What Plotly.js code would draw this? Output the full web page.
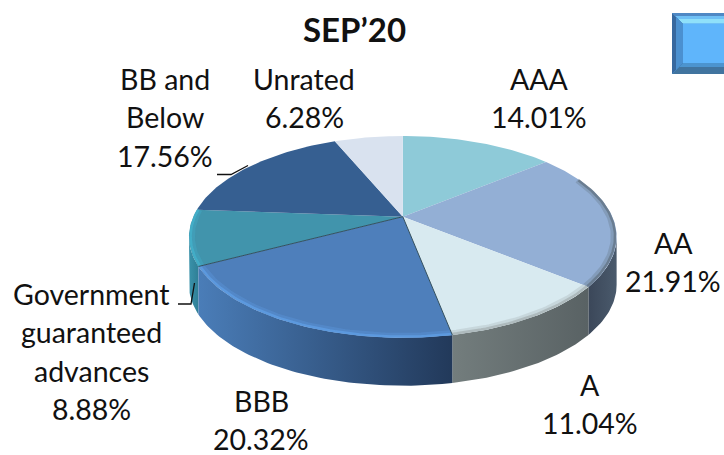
<!DOCTYPE html>
<html>
<head>
<meta charset="utf-8">
<script src="https://cdn.plot.ly/plotly-3.0.1.min.js"></script>
<style>html,body{margin:0;padding:0;background:#fff}#chart{width:724px;height:455px}</style>
</head>
<body>
<div id="chart"></div>
<script>
// ---- data (clockwise from 12 o'clock) ----
const categories = ['AAA', 'AA', 'A', 'BBB', 'Government guaranteed advances', 'BB and Below', 'Unrated'];
const values = [14.01, 21.91, 11.04, 20.32, 8.88, 17.56, 6.28];
const chartTitle = 'SEP’20';

// ---- label layout: wrapped category lines, anchor centre x, first line y ----
const labelLines = [['AAA'], ['AA'], ['A'], ['BBB'], ['Government', 'guaranteed', 'advances'], ['BB and', 'Below'], ['Unrated']];
const labelX = [539, 673, 590, 261, 91, 165, 304];
const labelY = [79, 243, 385, 401, 294, 79, 79];
const lineStep = 38.3;

// ---- styles ----
const topColors = ['#8ECAD8', '#93AFD5', '#D8EAF0', '#4E7FBB', '#4194AC', '#365F91', '#D9E2EF'];
const wallStops = [
  ['#6fa2ae', '#6fa2ae'], ['#3b4759', '#4a5a6c'], ['#737d7d', '#596264'],
  ['#4a7db8', '#22395a'], ['#3a92aa', '#2f7f96'], ['#2b4a72', '#2b4a72'], ['#aab3bf', '#aab3bf']
];
const rimColors = [null, '#66788a', '#a9b5b7', '#5e9ce2', '#43b0ca', null, null];

// ---- projection of the tilted disc ----
const cx = 402.8, cy = 216.7, sx = 209.5, sy = 96.8, k = 0.2, depth = 48;
function project(angle, r) {
  const u = Math.sin(angle) * r, v = -Math.cos(angle) * r, w = 1 - k * v;
  return [cx + sx * u / w, cy + sy * v / w];
}
const total = values.reduce((a, b) => a + b, 0);
const edges = [0];
values.forEach(v => edges.push(edges[edges.length - 1] + v / total * 2 * Math.PI));
function arc(a0, a1, r) {
  const n = Math.max(2, Math.ceil((a1 - a0) / 0.02));
  const pts = [];
  for (let i = 0; i <= n; i++) pts.push(project(a0 + (a1 - a0) * i / n, r));
  return pts;
}
const frontStart = Math.acos(-k), frontEnd = 2 * Math.PI - frontStart;
const traces = [];
function poly(pts, extra) {
  traces.push(Object.assign({
    type: 'scatter', mode: 'lines', x: pts.map(p => p[0]), y: pts.map(p => p[1]),
    hoverinfo: 'skip', showlegend: false
  }, extra));
}

// side walls first
[4, 1, 2, 3].forEach(i => {
  const a0 = Math.max(edges[i], frontStart), a1 = Math.min(edges[i + 1], frontEnd);
  if (a1 <= a0) return;
  const upper = arc(a0, a1, 1);
  const lower = upper.map(p => [p[0], p[1] + depth]).reverse();
  poly(upper.concat(lower, [upper[0]]), {
    fill: 'toself', line: {width: 0},
    fillgradient: {type: 'horizontal', colorscale: [[0, wallStops[i][0]], [1, wallStops[i][1]]]}
  });
});
// top faces
values.forEach((v, i) => {
  const rim = arc(edges[i], edges[i + 1], 1);
  poly([[cx, cy]].concat(rim, [[cx, cy]]), {fill: 'toself', fillcolor: topColors[i], line: {width: 0, color: topColors[i]}});
});
// bevel along the front rim: soft outer glow, then a narrow highlight
values.forEach((v, i) => {
  if (!rimColors[i]) return;
  const a0 = Math.max(edges[i], 1.15), a1 = Math.min(edges[i + 1], edges[5]);
  poly(arc(a0, a1, 0.985), {line: {color: rimColors[i], width: 5}, opacity: 0.35});
  poly(arc(a0, a1, 0.993), {line: {color: rimColors[i], width: 2.5}, opacity: 0.85});
});
// slice edges of the BBB face
[edges[3], edges[4]].forEach(a => {
  poly([[cx, cy], project(a, 1)], {line: {color: '#33505f', width: 1}});
});
// leader lines
const leaderBBx = [217, 231, 248], leaderBBy = [174.5, 174.5, 165.5];
const leaderGovx = [178, 191, 194.5], leaderGovy = [304, 304, 283];
traces.push({type: 'scatter', mode: 'lines', x: leaderBBx, y: leaderBBy, line: {color: '#111', width: 1.3}, hoverinfo: 'skip', showlegend: false});
traces.push({type: 'scatter', mode: 'lines', x: leaderGovx, y: leaderGovy, line: {color: '#111', width: 1.3}, hoverinfo: 'skip', showlegend: false});

// ---- labels ----
const font = 'Lato, Carlito, "Open Sans", sans-serif';
const annotations = [];
function addText(x, y, text, size, bold) {
  annotations.push({xref: 'x', yref: 'y', x, y, text: bold ? '<b>' + text + '</b>' : text, showarrow: false,
    xanchor: 'center', yanchor: 'middle', font: {family: font, size, color: '#111'}});
}
categories.forEach((c, i) => {
  const lines = labelLines[i].concat([values[i].toFixed(2) + '%']);
  lines.forEach((t, j) => addText(labelX[i], labelY[i] + j * lineStep, t, 28.5, false));
});
addText(354, 29, chartTitle, 33, true);

// ---- bevelled button in the corner ----
const bx0 = 672, bx1 = 730, by0 = 13, by1 = 74, b = 11;
function path(pts) { return 'M' + pts.map(p => p.join(',')).join('L') + 'Z'; }
const shapes = [
  {type: 'rect', x0: bx0, x1: bx1, y0: by0, y1: by1, fillcolor: '#5FB5FB', line: {width: 0}},
  {type: 'path', path: path([[bx0, by0], [bx1, by0], [bx1, by0 + b], [bx0 + b, by0 + b]]), fillcolor: '#6FC0F5', line: {width: 0}},
  {type: 'path', path: path([[bx0, by0], [bx1, by0], [bx1, by0 + 3], [bx0 + 3, by0 + 3]]), fillcolor: '#4F88C4', line: {width: 0}},
  {type: 'path', path: path([[bx0 + 6, by0 + 6], [bx1, by0 + 6], [bx1, by0 + 10], [bx0 + 10, by0 + 10]]), fillcolor: '#8FE0FA', line: {width: 0}},
  {type: 'path', path: path([[bx0, by1], [bx1, by1], [bx1, by1 - b], [bx0 + b, by1 - b]]), fillcolor: '#41749F', line: {width: 0}},
  {type: 'path', path: path([[bx0 + 7, by1 - 7], [bx1, by1 - 7], [bx1, by1 - b], [bx0 + b, by1 - b]]), fillcolor: '#4C94CF', line: {width: 0}},
  {type: 'path', path: path([[bx0, by0], [bx0 + b, by0 + b], [bx0 + b, by1 - b], [bx0, by1]]), fillcolor: '#37689F', line: {width: 0}},
  {type: 'path', path: path([[bx0 + 4, by0 + 4], [bx0 + b, by0 + b], [bx0 + b, by1 - b], [bx0 + 4, by1 - 4]]), fillcolor: '#4B90D0', line: {width: 0}}
];

Plotly.newPlot('chart', traces, {
  width: 724, height: 455,
  margin: {l: 0, r: 0, t: 0, b: 0},
  paper_bgcolor: '#fff', plot_bgcolor: '#fff',
  showlegend: false,
  xaxis: {range: [0, 724], visible: false, fixedrange: true},
  yaxis: {range: [455, 0], visible: false, fixedrange: true},
  annotations, shapes
}, {displayModeBar: false, staticPlot: true});
</script>
</body>
</html>
